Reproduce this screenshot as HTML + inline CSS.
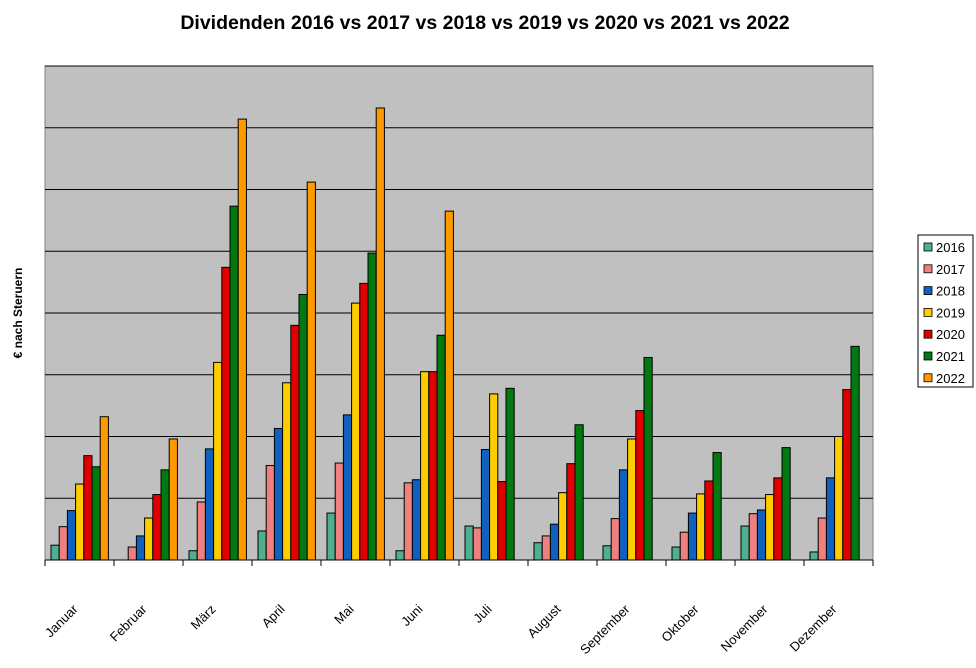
<!DOCTYPE html>
<html><head><meta charset="utf-8"><style>
body{margin:0;background:#fff;}
svg{display:block;font-family:"Liberation Sans",Arial,sans-serif;}
</style></head><body>
<svg id="chart" width="976" height="668">
<text x="485" y="29" text-anchor="middle" font-size="19.5" font-weight="bold">Dividenden 2016 vs 2017 vs 2018 vs 2019 vs 2020 vs 2021 vs 2022</text>
<text transform="translate(22,313) rotate(-90)" text-anchor="middle" font-size="12" font-weight="bold">€ nach Steruern</text>
<rect x="45" y="66" width="828" height="494" fill="#c0c0c0" stroke="#808080"/>
<g id="grid"></g><g id="bars"></g><g id="axis"></g><g id="legend"></g>
</svg>
<script>
const categories=["Januar","Februar","März","April","Mai","Juni","Juli","August","September","Oktober","November","Dezember"];
const seriesNames=["2016","2017","2018","2019","2020","2021","2022"];
const s2016=[0.24,0,0.15,0.47,0.76,0.15,0.55,0.28,0.23,0.21,0.55,0.13];
const s2017=[0.54,0.21,0.94,1.53,1.57,1.25,0.52,0.39,0.67,0.45,0.75,0.68];
const s2018=[0.8,0.39,1.8,2.13,2.35,1.3,1.79,0.58,1.46,0.76,0.81,1.33];
const s2019=[1.23,0.68,3.2,2.87,4.16,3.05,2.69,1.09,1.96,1.07,1.06,2.0];
const s2020=[1.69,1.06,4.74,3.8,4.48,3.05,1.27,1.56,2.42,1.28,1.33,2.76];
const s2021=[1.51,1.46,5.73,4.3,4.97,3.64,2.78,2.19,3.28,1.74,1.82,3.46];
const s2022=[2.32,1.96,7.14,6.12,7.32,5.65,0,0,0,0,0,0];
const yTicks=[1,2,3,4,5,6,7,8];
const series=[s2016,s2017,s2018,s2019,s2020,s2021,s2022];
const colors=["#4fb08f","#f08080","#1060c0","#ffcc00","#e00000","#007a10","#ff9900"];
const NS="http://www.w3.org/2000/svg";
const X0=45,W=828,Y0=560,H=494,YMAX=8;
const bw=W/categories.length;
const y=v=>Y0-v/YMAX*H;
const xc=i=>X0+i*bw;
function mk(tag,attrs,parent){const e=document.createElementNS(NS,tag);for(const k in attrs)e.setAttribute(k,attrs[k]);parent.appendChild(e);return e;}
const grid=document.getElementById('grid');
yTicks.forEach(t=>{const l=mk('line',{x1:X0,x2:X0+W,y1:y(t),y2:y(t),stroke:'#000','stroke-width':1},grid);

});
const bars=document.getElementById('bars');
const barW=8.2;
categories.forEach((c,i)=>{series.forEach((s,j)=>{const v=s[i];if(v<=0)return;
const r=mk('rect',{x:xc(i)+6+j*barW,y:y(v),width:barW,height:Y0-y(v),fill:colors[j],stroke:'#000','stroke-width':1},bars);

});});
const ax=document.getElementById('axis');
const al=mk('line',{x1:X0,x2:X0+W,y1:Y0,y2:Y0,stroke:'#000'},ax);


for(let i=0;i<=categories.length;i++){const t=mk('line',{x1:xc(i),x2:xc(i),y1:Y0,y2:Y0+6,stroke:'#000'},ax);

}
categories.forEach((c,i)=>{const cx=xc(i)+bw/2-1,cy=610;
const t=mk('text',{x:cx,y:cy,'text-anchor':'end','font-size':13,transform:`rotate(-45 ${cx} ${cy})`},ax);t.textContent=c;

});
const lg=document.getElementById('legend');
const box=mk('rect',{x:918,y:235,width:55,height:152,fill:'#fff',stroke:'#000'},lg);


seriesNames.forEach((n,j)=>{const cy=247+j*21.8;
const sw=mk('rect',{x:924,y:cy-4,width:8,height:8,fill:colors[j],stroke:'#000','stroke-width':0.8},lg);


const t=mk('text',{x:936,y:cy+5,'font-size':13},lg);t.textContent=n;

});
</script>
</body></html>
